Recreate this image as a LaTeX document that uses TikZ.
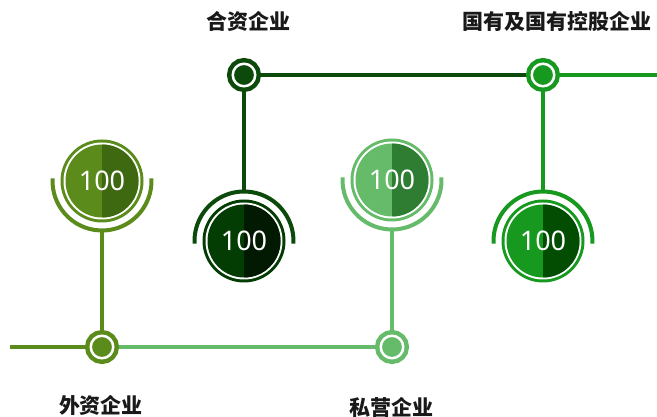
\documentclass[tikz,border=0pt]{standalone}
\usepackage{fontspec}
\setmainfont{Noto Sans}
\newfontfamily\cjk{Noto Sans CJK SC}
\usetikzlibrary{calc}

\definecolor{olivA}{HTML}{5B8C1B}
\definecolor{olivB}{HTML}{3F6910}
\definecolor{darkA}{HTML}{033D03}
\definecolor{darkB}{HTML}{011A01}
\definecolor{darkL}{HTML}{0B4A0B}
\definecolor{lightA}{HTML}{66BB6A}
\definecolor{lightB}{HTML}{2E7D32}
\definecolor{greenA}{HTML}{17981F}
\definecolor{greenB}{HTML}{034D03}

\tikzset{
    dot/.style={circle, inner sep=0pt, minimum size=22.5pt, fill=#1, draw=#1,
        double=white, double distance=2.5pt, line width=4.5pt, outer sep=5.75pt},
    badge/.style 2 args={circle, inner sep=0pt, minimum size=83pt, fill=#1,
        outer sep=9.5pt, text=white, font=\fontsize{27}{30}\selectfont,
        path picture={
            % white ring
            \fill[white] (path picture bounding box.center) circle (38.5pt);
            \fill[#1] (path picture bounding box.center) circle (36.5pt);
            % dark right half
            \fill[#2] ([yshift=-36.5pt]path picture bounding box.center)
                arc[start angle=-90, end angle=90, radius=36.5pt] -- cycle;
        }},
    cup/.style={line width=4pt, draw=#1},
    link/.style={line width=4.5pt, draw=#1},
    title/.style={font=\cjk\bfseries\fontsize{21}{24}\selectfont, text=black!90},
}

\begin{document}
\begin{tikzpicture}[x=1pt, y=1pt]
    \useasboundingbox (0,0) rectangle (657,417);

    % Dots on the two lines
    \node[dot=olivA] (wzdot) at (102,70) {};
    \node[dot=lightA] (sydot) at (392,70) {};
    \node[dot=darkL] (hzdot) at (244,342) {};
    \node[dot=greenA] (gydot) at (543,342) {};

    % Line ends
    \coordinate (wzstart) at (10,70);
    \coordinate (gyend) at (657,342);

    % Badges
    \node[badge={olivA}{olivB}] (wz) at (102,236) {100};
    \node[badge={lightA}{lightB}] (sy) at (392,237) {100};
    \node[badge={darkA}{darkB}] (hz) at (244,176) {100};
    \node[badge={greenA}{greenB}] (gy) at (543,176) {100};

    % Cups round the badges
    \draw[cup=olivA] ($(wz.center)+(177:49.5pt)$) arc[start angle=177, end angle=363, radius=49.5pt];
    \draw[cup=lightA] ($(sy.center)+(177:49.5pt)$) arc[start angle=177, end angle=363, radius=49.5pt];
    \draw[cup=darkL] ($(hz.center)+(-3:49.5pt)$) arc[start angle=-3, end angle=183, radius=49.5pt];
    \draw[cup=greenA] ($(gy.center)+(-3:49.5pt)$) arc[start angle=-3, end angle=183, radius=49.5pt];

    % Lines
    \draw[link=olivA] (wzstart) -- (wzdot);
    \draw[link=lightA] (wzdot) -- (sydot);
    \draw[link=darkL] (hzdot) -- (gydot);
    \draw[link=greenA] (gydot) -- (gyend);
    \draw[link=olivA] (wzdot) -- (wz);
    \draw[link=lightA] (sydot) -- (sy);
    \draw[link=darkL] (hzdot) -- (hz);
    \draw[link=greenA] (gydot) -- (gy);

    % Labels
    \node[title] (wzlabel) at (101,12) {外资企业};
    \node[title] (sylabel) at (391,10) {私营企业};
    \node[title] (hzlabel) at (248,396) {合资企业};
    \node[title] (gylabel) at (557,396) {国有及国有控股企业};
\end{tikzpicture}
\end{document}
